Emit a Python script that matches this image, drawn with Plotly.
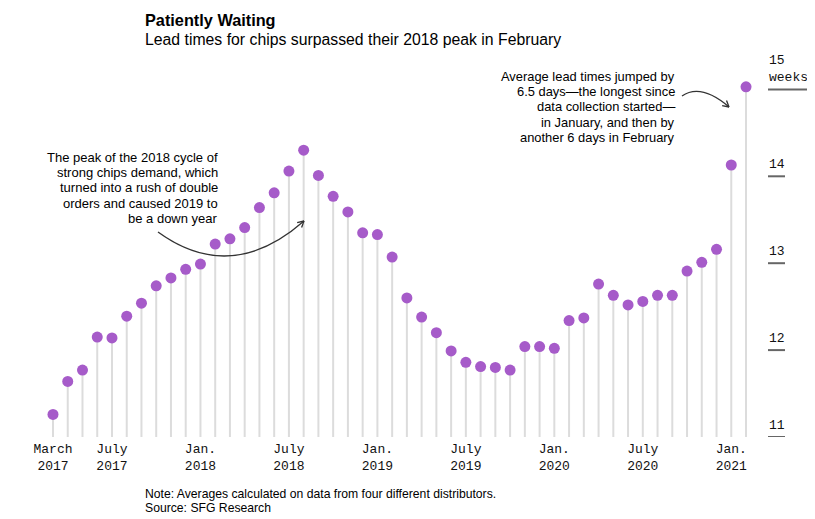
import math
import plotly.graph_objects as go

# ---- data ----
months = [f"{2017 + (2 + i) // 12}-{(2 + i) % 12 + 1:02d}" for i in range(48)]  # Mar 2017 .. Feb 2021
lead_weeks = [11.26, 11.64, 11.77, 12.15, 12.14, 12.39, 12.54, 12.74, 12.83, 12.93,
              12.99, 13.22, 13.28, 13.41, 13.64, 13.81, 14.06, 14.30, 14.01, 13.77,
              13.59, 13.35, 13.33, 13.07, 12.60, 12.38, 12.20, 11.99, 11.86, 11.81,
              11.80, 11.77, 12.04, 12.04, 12.02, 12.34, 12.37, 12.76, 12.63, 12.52,
              12.56, 12.63, 12.63, 12.91, 13.01, 13.16, 14.13, 15.03]
tick_months = ["2017-03", "2017-07", "2018-01", "2018-07", "2019-01", "2019-07",
               "2020-01", "2020-07", "2021-01"]
tick_text = ["March<br>2017", "July<br>2017", "Jan.<br>2018", "July<br>2018", "Jan.<br>2019",
             "July<br>2019", "Jan.<br>2020", "July<br>2020", "Jan.<br>2021"]
y_ticks = [11, 12, 13, 14, 15]
y_tick_text = ["11", "12", "13", "14", "15<br>weeks"]
base_value = 11
left_note = ["The peak of the 2018 cycle of", "strong chips demand, which",
             "turned into a rush of double", "orders and caused 2019 to", "be a down year"]
right_note = ["Average lead times jumped by", "6.5 days\u2014the longest since",
              "data collection started\u2014", "in January, and then by",
              "another 6 days in February"]

# page body has an 8px margin; work in screenshot pixels and convert
OFF = 8
W, H = 815 - OFF, 519 - OFF
L_pic, R_pic, T_pic, B_pic = 30, 800, 60, 437
ML, MR, MT, MB = L_pic - OFF, W - (R_pic - OFF), T_pic - OFF, H - (B_pic - OFF)
PW, PH = R_pic - L_pic, B_pic - T_pic
X0_pic, DX = 53, 14.745      # first month centre, px per month
PX_PER_WEEK = 86.9

def px(p):
    return (p - L_pic) / PW

def py(p):
    return (B_pic - p) / PH

xi = list(range(len(months)))

stem_x, stem_y = [], []
for i, v in zip(xi, lead_weeks):
    stem_x += [i, i, None]
    stem_y += [base_value, v, None]

fig = go.Figure()
fig.add_trace(go.Scatter(x=stem_x, y=stem_y, mode="lines",
                         line=dict(color="#dcdcdc", width=2), hoverinfo="skip",
                         showlegend=False))
fig.add_trace(go.Scatter(x=xi, y=lead_weeks, mode="markers",
                         marker=dict(size=11, color="#a65bc9", line=dict(width=0)),
                         showlegend=False))

tick_idx = [months.index(m) for m in tick_months]
mono = "Liberation Mono, DejaVu Sans Mono, monospace"

fig.update_layout(
    width=W, height=H,
    margin=dict(l=ML, r=MR, t=MT, b=MB),
    paper_bgcolor="white", plot_bgcolor="white",
    font=dict(family="Liberation Sans, Arial, sans-serif", color="#000"),
    xaxis=dict(range=[-(X0_pic - L_pic) / DX, (R_pic - X0_pic) / DX],
               tickvals=tick_idx, ticktext=tick_text, showgrid=False, zeroline=False,
               showline=False, ticks="", ticklabelstandoff=2,
               tickfont=dict(family=mono, size=13, color="#111")),
    yaxis=dict(range=[base_value, base_value + PH / PX_PER_WEEK], showgrid=False,
               zeroline=False, showticklabels=False, showline=False),
)

# y axis labels + underlines
for v, t in zip(y_ticks, y_tick_text):
    fig.add_annotation(x=px(767), y=v, xref="paper", yref="y", text=t, showarrow=False,
                       xanchor="left", yanchor="bottom", align="left", yshift=2,
                       font=dict(family=mono, size=13, color="#111"))
    x1 = 808 if "weeks" in t else 785
    fig.add_shape(type="line", xref="paper", yref="y", x0=px(768), x1=px(x1), y0=v, y1=v,
                  line=dict(color="#666", width=2))

# title, subtitle, notes
fig.add_annotation(x=px(143), y=py(20), xref="paper", yref="paper", text="<b>Patiently Waiting</b>",
                   showarrow=False, xanchor="left", yanchor="middle", font=dict(size=16.3))
fig.add_annotation(x=px(143), y=py(40), xref="paper", yref="paper",
                   text="Lead times for chips surpassed their 2018 peak in February",
                   showarrow=False, xanchor="left", yanchor="middle", font=dict(size=15.8))
fig.add_annotation(x=px(143), y=py(494), xref="paper", yref="paper",
                   text="Note: Averages calculated on data from four different distributors.",
                   showarrow=False, xanchor="left", yanchor="middle", font=dict(size=12.2))
fig.add_annotation(x=px(143), y=py(508), xref="paper", yref="paper",
                   text="Source: SFG Research",
                   showarrow=False, xanchor="left", yanchor="middle", font=dict(size=12.2))

# callouts, one line at a time
for k, line in enumerate(left_note):
    fig.add_annotation(x=px(220), y=py(157 + 15.4 * k), xref="paper", yref="paper",
                       text=line, showarrow=False, xanchor="right", yanchor="middle",
                       font=dict(size=13))
for k, line in enumerate(right_note):
    fig.add_annotation(x=px(677), y=py(76 + 15.4 * k), xref="paper", yref="paper",
                       text=line, showarrow=False, xanchor="right", yanchor="middle",
                       font=dict(size=12.9))

def curve(p0, c, p1, head=7):
    fig.add_shape(type="path", xref="paper", yref="paper",
                  path=f"M {px(p0[0])},{py(p0[1])} Q {px(c[0])},{py(c[1])} {px(p1[0])},{py(p1[1])}",
                  line=dict(color="#333", width=1.3))
    dx, dy = p1[0] - c[0], p1[1] - c[1]
    a = math.atan2(dy, dx)
    for s in (-0.5, 0.5):
        hx = p1[0] - head * math.cos(a + s)
        hy = p1[1] - head * math.sin(a + s)
        fig.add_shape(type="line", xref="paper", yref="paper",
                      x0=px(hx), y0=py(hy), x1=px(p1[0]), y1=py(p1[1]),
                      line=dict(color="#333", width=1.3))

curve((158, 232), (231, 285), (304, 221))
curve((682, 96), (701, 83), (729, 107))

fig.write_html("out.html")
